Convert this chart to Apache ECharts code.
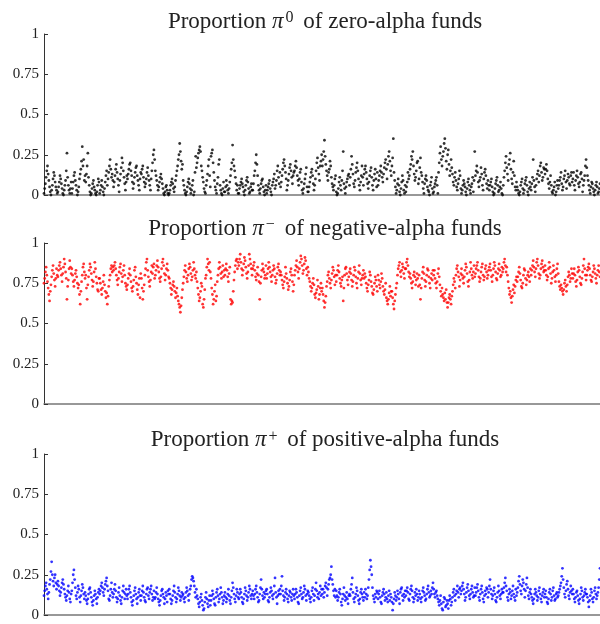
<!DOCTYPE html>
<html>
<head>
    <meta charset="utf-8">
    <script src="https://cdn.jsdelivr.net/npm/echarts@6/dist/echarts.min.js"></script>
</head>
<body style="margin:0">
<div id="main" style="width: 600px;height: 624px;"></div>
<script type="text/javascript">
    // values in percent, one row = 20 consecutive points
    var pi0 = [
        1,4,7,11,15,18,13,9,5,2,0,3,6,10,14,12,8,5,3,1,
        2,5,8,12,10,7,4,1,0,3,6,9,15,26,11,6,3,1,4,8,
        1,4,8,12,14,9,6,3,0,2,5,10,13,16,21,30,18,22,9,12,
        8,13,18,26,11,6,2,0,1,4,7,9,5,3,1,0,2,6,10,8,
        1,3,6,9,5,2,0,4,8,12,15,6,10,14,18,22,16,11,13,9,
        5,8,12,16,19,14,10,6,2,9,13,17,23,20,15,11,7,3,8,12,
        10,13,16,19,20,15,12,8,4,7,11,14,17,18,12,9,6,3,10,14,
        13,16,18,11,8,5,7,10,14,17,12,9,6,3,10,15,20,25,28,22,
        15,12,9,6,3,5,8,11,13,10,7,4,1,0,2,5,6,3,1,0,
        1,3,6,8,10,7,4,2,5,9,12,15,18,22,25,32,27,21,16,19,
        9,6,3,1,0,2,5,8,10,7,4,1,3,6,9,0,2,14,24,17,
        20,23,26,28,30,27,18,15,11,8,4,2,1,6,9,13,18,22,12,5,
        24,26,28,20,14,9,5,3,1,7,11,19,22,6,3,1,0,4,8,2,
        2,5,9,6,3,1,4,8,12,16,20,31,22,18,15,11,7,3,6,1,
        1,4,6,8,10,7,5,2,0,3,6,9,11,8,4,1,2,5,7,3,
        3,7,12,15,20,25,19,12,6,3,1,4,7,9,10,5,2,0,3,6,
        1,3,5,7,9,4,2,0,6,8,10,13,4,6,9,15,18,11,7,14,
        5,8,12,16,20,22,18,14,10,3,6,9,13,17,19,15,11,7,12,14,
        15,18,21,17,12,9,6,10,14,16,8,3,1,4,7,10,13,17,5,2,
        2,5,8,11,14,16,12,7,3,6,10,15,20,23,17,13,9,18,21,25,
        18,22,27,34,24,19,15,12,9,14,16,21,18,11,7,5,3,6,10,12,
        2,0,1,4,8,11,6,3,9,15,27,7,4,1,5,8,10,12,13,6,
        11,16,24,19,13,7,5,9,14,17,20,15,10,6,3,8,12,18,11,6,
        13,16,18,14,10,7,4,8,12,15,17,11,6,3,9,13,16,10,5,14,
        6,9,12,15,18,14,11,8,13,17,20,22,16,10,19,24,27,21,15,12,
        18,23,35,14,9,5,1,3,7,10,6,2,0,4,8,12,9,3,1,6,
        2,5,8,14,10,12,16,19,24,22,27,18,13,9,11,15,20,21,7,10,
        17,23,14,12,8,4,1,7,10,12,9,5,3,2,0,6,8,11,4,1,
        2,5,7,9,11,6,1,14,20,26,30,22,18,24,27,32,35,29,21,16,
        25,28,19,12,15,22,17,13,8,6,11,14,9,5,3,7,10,15,12,4,
        1,3,6,9,7,5,2,0,4,8,10,6,3,1,5,7,11,2,9,27,
        12,15,18,14,8,5,9,11,17,13,6,3,10,14,16,12,7,4,9,6,
        3,6,8,10,5,2,0,1,4,7,9,11,6,2,3,5,8,4,1,0,
        6,11,15,20,24,17,13,9,19,22,26,16,10,7,14,21,12,5,3,8,
        5,3,1,0,2,6,8,10,4,1,3,7,9,11,6,2,0,4,8,5,
        3,7,11,22,9,5,2,6,10,13,15,8,12,18,20,14,9,11,17,16,
        13,16,19,15,10,7,4,8,12,6,2,1,3,5,8,0,2,6,9,4,
        6,9,11,14,7,3,5,10,12,15,8,4,9,13,11,7,6,12,14,8,
        10,14,6,3,9,12,15,11,7,5,8,13,14,10,2,6,9,12,18,22,
        17,12,9,6,3,1,5,8,7,4,2,0,3,6,8,5,1,2,4,7
    ];
    var piMinus = [
        75,78,82,85,80,76,72,68,64,70,74,79,83,86,81,77,73,78,84,80,
        79,83,86,88,84,80,76,81,85,90,87,82,78,65,73,77,84,89,85,81,
        84,80,76,73,77,81,83,79,75,72,74,68,62,70,76,80,85,87,82,78,
        80,72,65,74,79,83,87,85,81,77,73,76,82,88,84,79,75,71,70,78,
        78,75,71,68,72,76,80,74,70,66,69,62,67,73,77,80,84,86,82,85,
        83,86,88,84,80,77,74,78,82,85,87,81,76,79,83,86,80,75,73,71,
        74,78,81,84,80,76,72,70,73,77,83,85,79,75,71,68,74,78,66,81,
        78,72,65,70,74,80,84,88,90,83,79,76,73,77,82,86,81,85,87,78,
        80,83,86,89,85,82,78,76,79,84,88,90,86,81,77,80,84,87,83,79,
        78,75,72,68,71,74,76,73,70,66,69,72,67,64,62,60,57,61,66,71,
        75,79,83,86,82,78,76,80,84,87,85,81,77,79,83,88,84,80,78,82,
        76,72,68,64,66,70,75,73,62,60,65,71,78,80,85,90,87,83,88,82,
        78,72,68,62,65,70,74,64,67,76,80,84,88,85,81,78,82,86,79,83,
        80,84,87,83,79,76,81,85,65,62,64,63,70,77,82,86,89,90,84,88,
        86,90,93,88,84,80,83,87,91,89,85,81,78,82,86,93,90,87,84,80,
        84,86,88,83,79,77,81,85,80,76,65,75,79,83,87,84,82,78,80,86,
        78,81,84,88,85,82,79,76,80,83,86,84,79,75,77,81,85,87,83,80,
        82,80,77,74,72,76,79,85,81,78,75,71,73,77,82,84,80,76,70,74,
        80,83,86,89,85,82,78,84,88,92,90,86,81,83,87,91,89,84,80,85,
        82,78,76,73,70,72,75,78,74,68,66,69,71,77,73,65,68,72,75,70,
        72,68,64,60,63,67,73,76,80,82,78,75,72,77,81,85,83,79,74,80,
        76,80,83,86,82,78,75,73,77,79,64,72,80,84,85,81,77,74,79,82,
        84,81,77,73,76,80,85,83,79,75,72,78,82,86,81,77,74,78,80,83,
        78,81,79,75,72,70,74,77,82,80,76,73,69,68,71,75,79,77,73,70,
        80,77,74,72,76,81,78,73,70,68,71,75,66,64,62,65,69,73,67,70,
        70,66,62,59,64,68,72,75,80,84,86,88,82,79,83,87,85,81,78,84,
        84,88,90,86,82,79,81,78,75,72,76,80,82,79,74,77,81,78,73,80,
        74,65,72,78,82,85,81,77,73,76,80,84,83,79,75,72,78,81,77,83,
        80,83,78,75,72,76,81,84,79,74,70,67,72,68,66,64,69,65,71,63,
        60,63,66,68,65,62,67,70,74,78,76,72,80,84,86,82,79,73,77,81,
        84,80,78,75,79,83,87,85,81,76,73,77,82,88,84,80,78,82,86,79,
        81,84,86,88,83,79,76,78,82,85,87,80,77,79,84,86,82,78,80,83,
        85,87,83,79,76,80,84,88,86,82,78,77,81,84,87,83,79,80,85,82,
        84,88,90,86,82,85,80,76,72,68,70,66,63,67,71,74,69,73,77,79,
        76,79,82,85,81,77,73,72,75,80,84,83,78,74,77,80,82,79,76,84,
        80,83,86,89,85,82,79,84,88,90,86,81,78,80,84,87,89,85,82,83,
        86,83,80,77,79,84,88,85,81,75,78,82,86,83,79,76,80,84,87,81,
        76,73,71,74,72,70,68,71,75,77,73,70,74,79,82,80,76,78,84,81,
        78,81,84,80,76,73,77,82,85,83,79,75,74,78,82,86,90,84,80,77,
        80,83,85,87,84,80,77,76,79,82,86,84,81,78,75,80,83,86,82,79
    ];
    var piPlus = [
        12,15,18,20,16,13,10,14,19,22,27,33,25,21,18,23,25,20,16,19,
        21,18,15,12,14,17,20,22,19,16,13,11,9,12,15,18,14,10,8,13,
        15,20,25,28,22,17,12,10,14,18,16,11,8,12,15,19,17,13,10,14,
        12,9,7,10,13,16,17,14,11,8,6,9,12,15,13,10,7,11,14,16,
        13,15,18,20,17,14,12,16,19,21,23,18,15,10,9,12,16,20,14,11,
        13,16,19,15,11,8,10,14,17,12,9,7,11,15,18,14,10,13,16,12,
        10,13,16,18,14,11,8,6,9,12,15,17,13,10,7,11,14,16,12,9,
        12,15,18,14,11,9,8,13,16,17,12,10,14,16,18,13,9,11,15,10,
        11,14,17,13,10,8,6,9,12,15,16,13,11,7,10,14,12,8,15,13,
        16,13,10,7,9,12,15,18,14,11,8,10,13,17,15,12,9,11,14,12,
        13,10,8,11,14,17,15,12,9,13,16,18,22,24,23,21,18,14,11,16,
        12,10,7,5,8,11,13,9,6,3,4,8,11,14,10,7,5,9,12,6,
        9,12,15,13,10,7,6,11,14,16,12,8,10,13,17,14,11,7,9,12,
        14,11,8,10,13,16,12,9,7,11,15,20,17,13,10,8,12,16,14,11,
        10,13,16,14,11,8,7,10,13,17,15,12,9,11,14,18,16,12,10,13,
        15,12,10,13,16,18,14,11,8,9,13,17,22,16,12,10,14,11,13,15,
        16,13,9,8,11,14,17,15,12,10,13,18,23,14,11,7,12,15,13,16,
        13,18,24,15,12,9,11,14,16,13,10,8,12,15,14,11,9,13,16,12,
        10,13,16,14,11,8,7,12,15,17,13,10,11,14,18,16,12,9,13,15,
        14,12,10,8,11,15,17,13,9,12,16,20,15,11,13,10,14,18,12,16,
        13,16,11,14,18,20,17,12,16,19,22,23,25,30,22,19,15,12,16,11,
        15,12,9,11,14,16,13,8,6,10,13,17,12,9,11,14,10,7,12,13,
        12,16,19,23,14,10,8,11,13,17,15,12,9,7,10,14,16,13,11,9,
        14,11,16,13,10,12,17,22,28,34,30,25,17,12,10,8,13,11,15,14,
        10,13,15,11,8,7,12,14,16,13,9,11,14,10,8,12,15,9,13,11,
        8,3,7,10,14,12,9,11,15,13,10,7,14,16,17,12,9,13,11,15,
        12,15,17,14,10,9,13,16,18,15,11,8,10,14,12,16,13,9,11,15,
        13,10,8,11,15,17,14,12,9,10,13,16,18,14,11,12,15,13,17,20,
        16,13,11,14,15,12,10,8,6,9,12,7,4,3,8,11,10,5,6,9,
        7,4,9,12,10,6,8,11,14,16,12,9,13,15,18,14,11,16,17,13,
        15,18,20,16,13,9,11,14,17,19,15,12,10,13,16,18,14,11,12,17,
        12,14,17,19,15,11,9,13,16,18,14,10,8,12,15,13,17,16,11,14,
        18,22,16,13,10,12,15,17,13,9,8,11,14,18,15,12,10,13,16,14,
        14,17,20,23,18,15,11,9,13,16,14,10,12,15,18,13,11,9,16,12,
        14,17,21,24,19,15,13,18,22,20,16,11,15,19,23,17,12,10,14,16,
        13,11,9,7,10,13,16,14,12,9,11,15,17,13,10,8,12,14,16,11,
        13,15,11,8,7,10,14,16,13,9,11,15,17,12,9,10,13,14,11,12,
        14,16,18,20,24,29,22,17,13,11,15,19,21,16,12,10,14,18,15,13,
        16,13,10,8,11,14,15,12,9,7,10,13,17,15,11,9,12,14,16,13,
        13,11,8,5,9,12,16,14,10,8,11,15,17,13,10,12,14,17,22,29
    ];
    var yTicks = [0, 0.25, 0.5, 0.75, 1];
    var titles = [
        ['Proportion ', '0', ' of zero-alpha funds'],
        ['Proportion ', '\u2212', ' of negative-alpha funds'],
        ['Proportion ', '+', ' of positive-alpha funds']
    ];
    var colors = ['#000000', '#ff0000', '#0000ff'];
    var series_vals = [pi0, piMinus, piPlus];
    var gridTops = [34, 243, 454];
    var titleTops = [5, 212, 423];
    var supRaise = [7, 7, 6];

    var serif = '"Liberation Serif", "DejaVu Serif", serif';

    function toPoints(vals){
        var out = [];
        for (var i = 0; i < vals.length; i++) {
            out.push([i, vals[i] / 100]);
        }
        return out;
    }

    var option = {
        animation: false,
        title: [],
        grid: [],
        xAxis: [],
        yAxis: [],
        series: []
    };

    for (var k = 0; k < 3; k++) {
        var t = titles[k];
        option.title.push({
            text: t[0] + '{pi|\u03c0}{sup|' + t[1] + '}' + t[2],
            left: 320,
            top: titleTops[k],
            textAlign: 'center',
            textStyle: {
                fontFamily: serif,
                fontSize: 23,
                fontWeight: 'normal',
                color: '#222',
                rich: {
                    pi: {fontFamily: serif, fontSize: 23, fontStyle: 'italic', color: '#222'},
                    sup: {fontFamily: serif, fontSize: 16, color: '#222', padding: [0, 4, supRaise[k], 2]}
                }
            }
        });
        option.grid.push({left: 44, right: 0, top: gridTops[k], height: 161});
        option.xAxis.push({
            gridIndex: k,
            type: 'value',
            min: 0,
            max: 799,
            axisLine: {show: true, onZero: false, lineStyle: {color: '#777', width: 1.5}},
            axisTick: {show: false},
            axisLabel: {show: false},
            splitLine: {show: false}
        });
        option.yAxis.push({
            gridIndex: k,
            type: 'value',
            min: 0,
            max: 1,
            interval: 0.25,
            axisLine: {show: true, lineStyle: {color: '#333', width: 1}},
            axisTick: {show: true, inside: true, length: 4, lineStyle: {color: '#333'}},
            axisLabel: {
                margin: 5,
                fontFamily: serif,
                fontSize: 15,
                color: '#222',
                formatter: function(v){
                    return yTicks.indexOf(v) >= 0 ? String(v) : '';
                }
            },
            splitLine: {show: false}
        });
        option.series.push({
            type: 'scatter',
            xAxisIndex: k,
            yAxisIndex: k,
            symbol: 'circle',
            symbolSize: 2.8,
            itemStyle: {color: colors[k]},
            data: toPoints(series_vals[k])
        });
    }

    var myChart = echarts.init(document.getElementById('main'));
    myChart.setOption(option);
</script>
</body>
</html>
